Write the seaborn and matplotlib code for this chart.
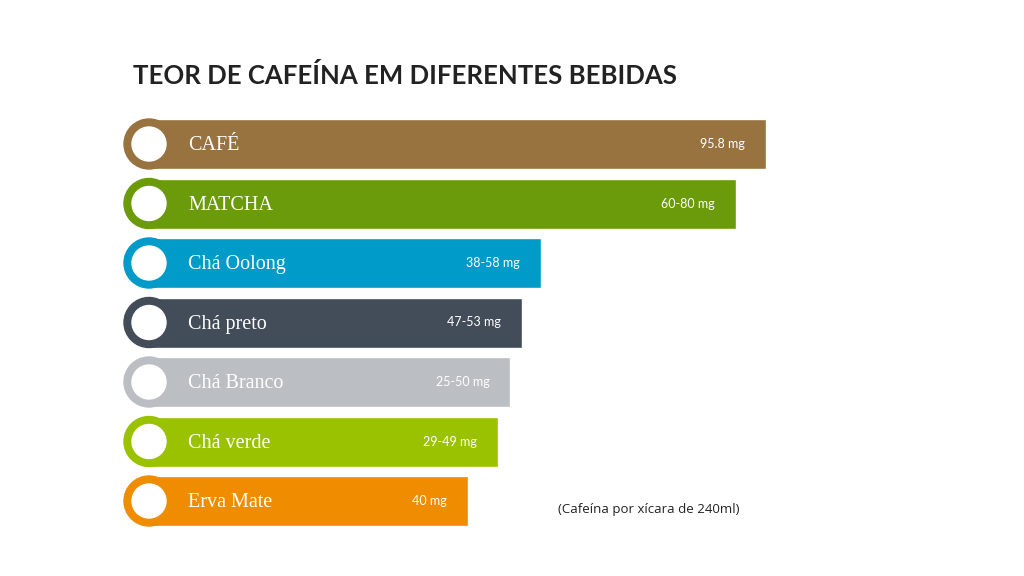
import matplotlib
matplotlib.use("Agg")
import matplotlib.pyplot as plt
import seaborn as sns
import pandas as pd
from matplotlib.patches import Ellipse

categories = ["CAFÉ", "MATCHA", "Chá Oolong", "Chá preto", "Chá Branco", "Chá verde", "Erva Mate"]
bar_values = [95.8, 91.1, 60.9, 57.9, 56.1, 54.2, 49.5]
value_labels = ["95.8 mg", "60-80 mg", "38-58 mg", "47-53 mg", "25-50 mg", "29-49 mg", "40 mg"]
colors = ["#98733F", "#6B9A0A", "#009BC8", "#434C59", "#BBBEC3", "#9BC200", "#F08C00"]

sns.set_theme(style="white")
fig = plt.figure(figsize=(10.24, 5.76), dpi=100)
ax = fig.add_axes([0, 0, 1, 1])
df = pd.DataFrame({"cat": categories, "val": bar_values})
sns.barplot(data=df, x="val", y="cat", hue="cat", palette=colors, legend=False,
            width=50/59.5, ax=ax, saturation=1)
sx = 6.44   # px per unit
sy = 59.5
ax.set_xlim(-149/sx, (1024-149)/sx)
ax.set_ylim((576-144)/sy, -144/sy)
ax.axis("off")
for i, (v, lab, c, cat) in enumerate(zip(bar_values, value_labels, colors, categories)):
    ax.add_patch(Ellipse((0, i), 2*25/sx, 50/sy, color=c, zorder=3))
    ax.add_patch(Ellipse((0, i), 2*17/sx, 34/sy, color="white", zorder=4))
    ax.text(39/sx, i + 0.03, cat, color="white", fontsize=14.5, family="Liberation Serif",
            va="center", ha="left", zorder=5)
    ax.text(v - 21/sx, i, lab, color="white", fontsize=9, family="Lato",
            va="center", ha="right", zorder=5)
fig.text(133/1024, 1-75/576, "TEOR DE CAFEÍNA EM DIFERENTES BEBIDAS", fontsize=18.5,
         family="Lato", weight="bold", color="#222222", va="center", ha="left")
fig.text(558/1024, 1-510/576, "(Cafeína por xícara de 240ml)", fontsize=9.5,
         family="Open Sans", color="#222222", va="center", ha="left")
fig.savefig("out.png", dpi=100)
